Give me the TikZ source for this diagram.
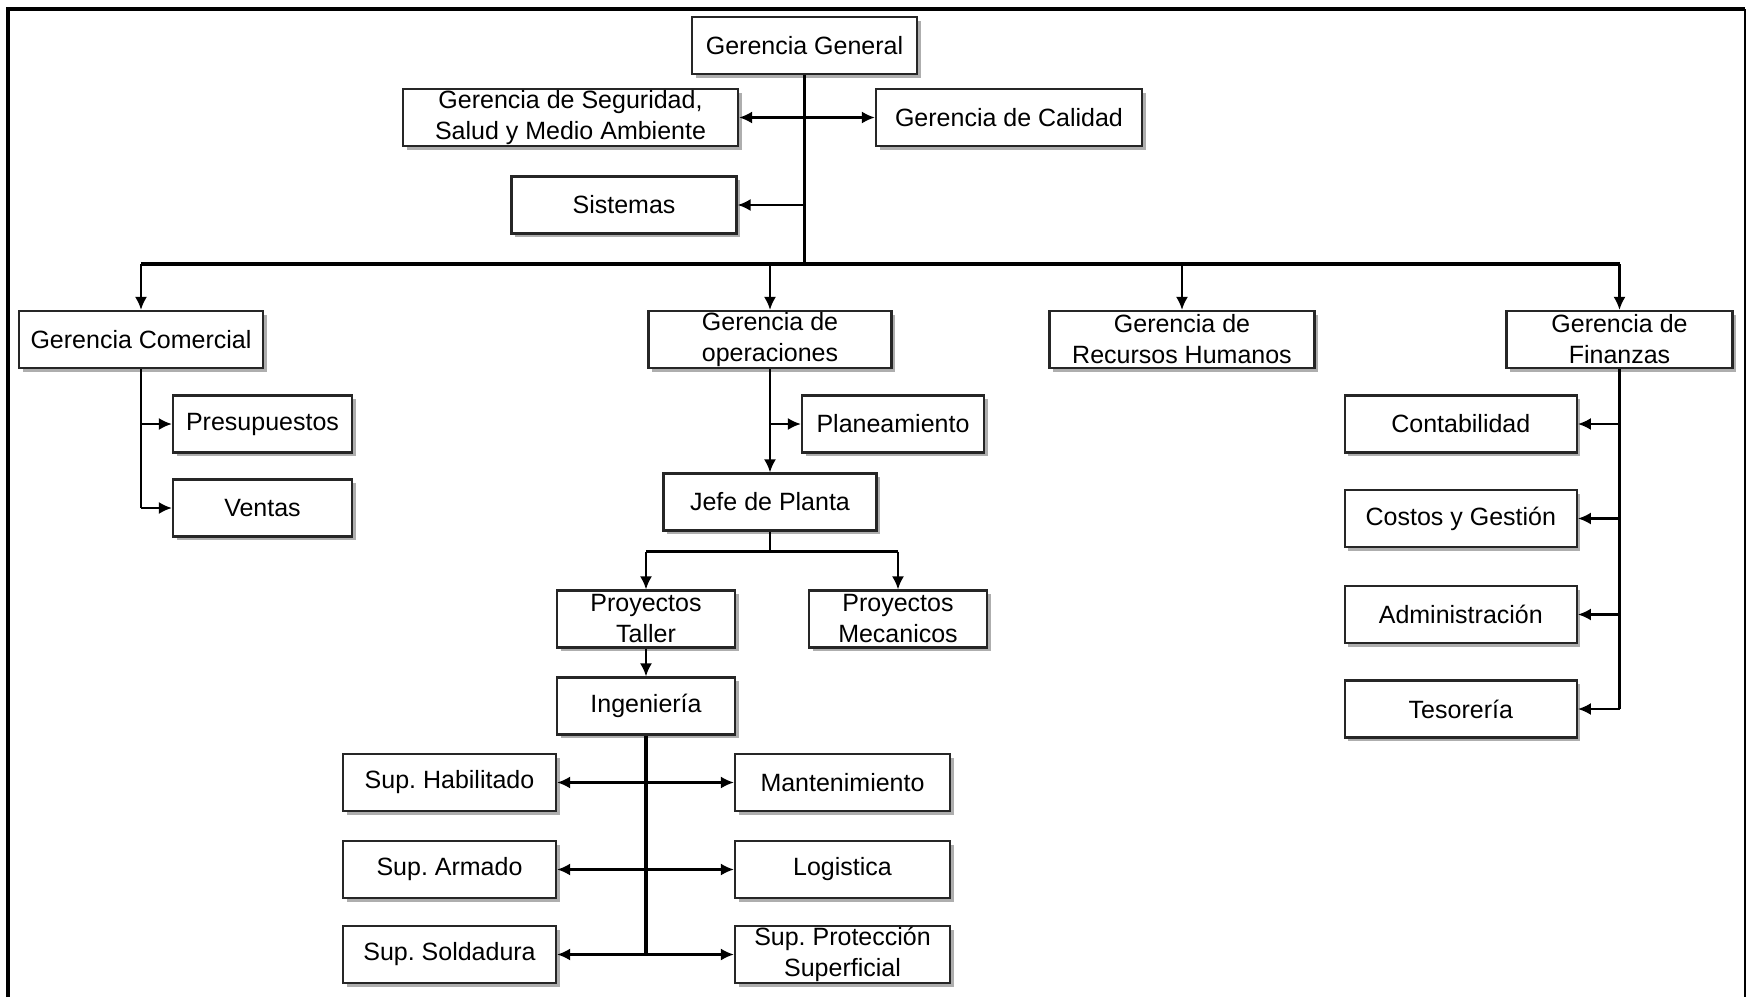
\documentclass[tikz,border=0pt]{standalone}
\usepackage{fontspec}
\setmainfont{Liberation Sans}
\usetikzlibrary{arrows.meta,shadows}
\frenchspacing
\begin{document}
\begin{tikzpicture}[x=0.5pt,y=-0.5pt,
 box/.style={draw=black!85, line width=1.1pt, fill=white, minimum height=28.5pt, inner sep=0pt, align=center,
   font=\fontsize{12.5}{15.5}\selectfont,
   drop shadow={shadow xshift=1.8pt, shadow yshift=-1.8pt, opacity=0.45, fill=black!70}},
 conn/.style={line width=1.1pt, black},
 trunk/.style={line width=1.7pt},
 arr/.style={conn, -{Latex[length=6.5pt,width=6pt]}},
 darr/.style={conn, {Latex[length=6.5pt,width=6pt]}-{Latex[length=6.5pt,width=6pt]}}]
\useasboundingbox (0,0) rectangle (1747,997);
\draw[line width=1.6pt] (8,997) -- (8,9) -- (1745,9);
\draw[line width=0.7pt] (1745,9) -- (1745,997);

\node[box, minimum width=112.5pt] (gg) at (804.5,45.5) {Gerencia General};
\node[box, minimum width=167.5pt] (seg) at (570.5,117.5) {Gerencia de Seguridad,\\Salud y Medio Ambiente};
\node[box, minimum width=133pt] (cal) at (1009,117.5) {Gerencia de Calidad};
\node[box, minimum width=112.5pt] (sis) at (624,205) {Sistemas};
\node[box, minimum width=122pt] (com) at (141,339.5) {Gerencia Comercial};
\node[box, minimum width=121.5pt] (ope) at (770,339.5) {Gerencia de\\operaciones};
\node[box, minimum width=132.5pt] (rrhh) at (1182,339.5) {Gerencia de\\Recursos Humanos};
\node[box, minimum width=113pt] (fin) at (1619.5,339.5) {Gerencia de\\Finanzas};
\node[box, minimum width=89.5pt] (pre) at (262.5,424) {Presupuestos};
\node[box, minimum width=89.5pt] (ven) at (262.5,508) {Ventas};
\node[box, minimum width=91pt] (pla) at (893,424) {Planeamiento};
\node[box, minimum width=106.5pt] (jef) at (770,502) {Jefe de Planta};
\node[box, minimum width=89pt] (pt) at (646,619) {Proyectos\\Taller};
\node[box, minimum width=89pt] (pm) at (898,619) {Proyectos\\Mecanicos};
\node[box, minimum width=89pt] (ing) at (646,706) {Ingeniería};
\node[box, minimum width=106.5pt] (hab) at (449.5,782.5) {Sup. Habilitado};
\node[box, minimum width=107.5pt] (man) at (842.5,782.5) {Mantenimiento};
\node[box, minimum width=106.5pt] (arm) at (449.5,869.5) {Sup. Armado};
\node[box, minimum width=107.5pt] (log) at (842.5,869.5) {Logistica};
\node[box, minimum width=106.5pt] (sol) at (449.5,954.5) {Sup. Soldadura};
\node[box, minimum width=107.5pt] (pro) at (842.5,954.5) {Sup. Protección\\Superficial};
\node[box, minimum width=116pt] (con) at (1460.8,424) {Contabilidad};
\node[box, minimum width=116pt] (cos) at (1460.8,518.5) {Costos y Gestión};
\node[box, minimum width=116pt] (adm) at (1460.8,614.5) {Administración};
\node[box, minimum width=116pt] (tes) at (1460.8,709) {Tesorería};

\coordinate (busy) at (0,264);
\coordinate (jy) at (0,551.5);

% top level
\draw[conn, trunk] (gg.south) -- (gg.south |- busy);
\draw[darr] (seg.east) -- (cal.west);
\draw[arr] (gg.south |- sis.east) -- (sis.east);
\draw[conn, trunk] (com.north |- busy) -- (fin.north |- busy);
\draw[arr] (com.north |- busy) -- (com.north);
\draw[arr] (ope.north |- busy) -- (ope.north);
\draw[arr] (rrhh.north |- busy) -- (rrhh.north);
\draw[arr] (fin.north |- busy) -- (fin.north);

% comercial
\draw[conn] (com.south) -- (com.south |- ven.west);
\draw[arr] (com.south |- pre.west) -- (pre.west);
\draw[arr] (com.south |- ven.west) -- (ven.west);

% operaciones
\draw[arr] (ope.south) -- (jef.north);
\draw[arr] (ope.south |- pla.west) -- (pla.west);
\draw[conn] (jef.south) -- (jef.south |- jy);
\draw[conn] (pt.north |- jy) -- (pm.north |- jy);
\draw[arr] (pt.north |- jy) -- (pt.north);
\draw[arr] (pm.north |- jy) -- (pm.north);
\draw[arr] (pt.south) -- (ing.north);
\draw[conn, trunk] (ing.south) -- (ing.south |- sol.east);
\draw[darr] (hab.east) -- (man.west);
\draw[darr] (arm.east) -- (log.west);
\draw[darr] (sol.east) -- (pro.west);

% finanzas
\draw[conn] (fin.south) -- (fin.south |- tes.east);
\draw[arr] (fin.south |- con.east) -- (con.east);
\draw[arr] (fin.south |- cos.east) -- (cos.east);
\draw[arr] (fin.south |- adm.east) -- (adm.east);
\draw[arr] (fin.south |- tes.east) -- (tes.east);
\end{tikzpicture}
\end{document}
